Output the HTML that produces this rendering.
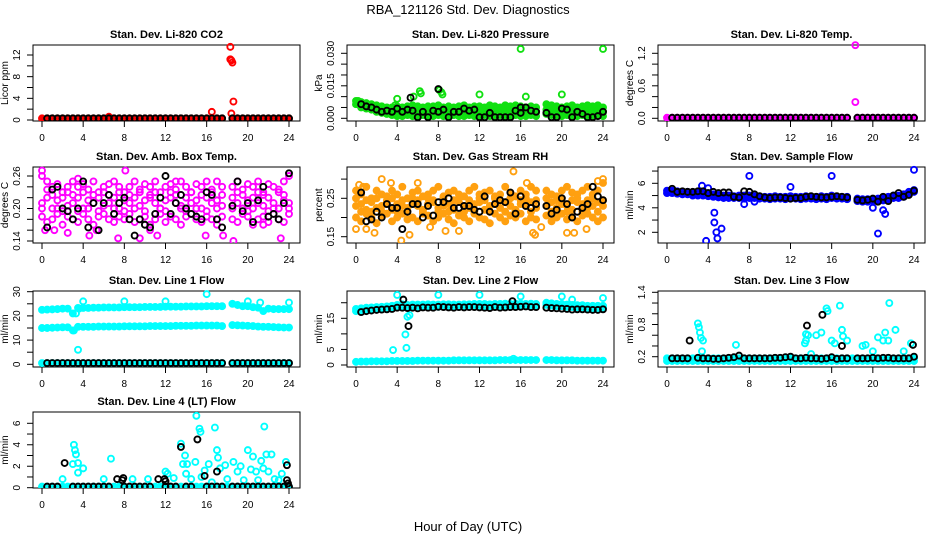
<!DOCTYPE html>
<html><head><meta charset="utf-8"><style>
html,body{margin:0;padding:0;background:#fff;}
svg{display:block;font-family:"Liberation Sans",Arial,sans-serif;}
.pt{font-weight:bold;font-size:11px;}
.tk{font-size:10px;}
</style></head><body>
<svg id="chart" width="936" height="540" viewBox="0 0 936 540">
<text x="468" y="14" text-anchor="middle" font-size="13">RBA_121126  Std. Dev. Diagnostics</text>
<text x="468" y="531" text-anchor="middle" font-size="13">Hour of Day (UTC)</text>
</svg>
<script>
const hours=[0,0.5,1,1.5,2,2.5,3,3.5,4,4.5,5,5.5,6,6.5,7,7.5,8,8.5,9,9.5,10,10.5,11,11.5,12,12.5,13,13.5,14,14.5,15,15.5,16,16.5,17,17.5,18,18.5,19,19.5,20,20.5,21,21.5,22,22.5,23,23.5,24];
const xTicks=[0,4,8,12,16,20,24];
// Panel 1 CO2
const co2Red=[0.3,0.3,0.3,0.3,0.3,0.3,0.3,0.3,0.3,0.3,0.3,0.3,0.3,0.3,0.3,0.3,0.3,0.3,0.3,0.3,0.3,0.3,0.3,0.3,0.3,0.3,0.3,0.3,0.3,0.3,0.3,0.3,0.3,0.3,0.3,0.3,null,0.3,0.3,0.3,0.3,0.3,0.3,0.3,0.3,0.3,0.3,0.3,0.3];
const co2Black=[null,0.3,0.3,0.3,0.3,0.3,0.3,0.3,0.3,0.3,0.3,0.3,0.3,0.3,0.3,0.3,0.3,0.3,0.3,0.3,0.3,0.3,0.3,0.3,0.3,0.3,0.3,0.3,0.3,0.3,0.3,0.3,0.3,0.3,0.3,0.3,null,0.3,0.3,0.3,0.3,0.3,0.3,0.3,0.3,0.3,0.3,0.3,0.3];
const co2OutX=[16.5,18.3,18.3,18.4,18.5,18.6,18.4,6.5];
const co2OutY=[1.5,13.5,11.2,11.0,10.6,3.4,1.2,0.6];
// Panel 2 pressure
const presG1=[0.008,0.0075,0.007,0.0065,0.006,0.0055,0.005,0.005,0.0055,0.005,0.0055,0.006,0.0055,0.005,0.0055,0.0055,0.006,0.005,0.0055,0.005,0.0055,0.006,0.005,0.0055,0.0055,0.005,0.006,0.0055,0.005,0.006,0.0055,0.006,0.0055,0.005,0.0055,0.005,null,0.0065,0.006,0.0055,0.005,0.0055,0.006,0.005,0.0055,0.006,0.0055,0.006,0.005];
const presG2=[0.0065,0.006,0.0055,0.005,0.0045,0.004,0.0035,0.003,0.003,0.003,0.0035,0.003,0.0035,0.003,0.003,0.0035,0.003,0.003,0.0035,0.003,0.003,0.0035,0.003,0.003,0.0035,0.003,0.003,0.0035,0.003,0.003,0.0035,0.003,0.0035,0.003,0.003,0.003,null,0.004,0.0035,0.003,0.003,0.0035,0.003,0.003,0.0035,0.003,0.003,0.0035,0.003];
const presG3=[null,0.005,0.0045,0.004,0.003,0.0025,0.002,0.0015,0.001,0.001,0.0015,0.001,0.001,0.0015,0.001,0.001,0.0015,0.001,0.001,0.0015,0.001,0.001,0.0015,0.001,0.001,0.0015,0.001,0.001,0.0015,0.001,0.001,0.0015,0.001,0.001,0.0015,0.001,null,0.002,0.0015,0.001,0.001,0.0015,0.001,0.001,0.0015,0.001,0.001,0.0015,0.001];
const presBlack=[null,0.0065,0.0055,0.005,0.004,0.003,0.0035,0.003,0.0045,0.003,0.004,0.0035,0.0005,0.003,0.0005,0.0035,0.003,0.004,0.0005,0.003,0.003,0.0045,0.0035,0.004,0.0005,0.0005,0.0025,0.0005,0.0005,0.0005,0.0005,0.0035,0.0025,0.005,0.0035,0.003,null,0.0025,0.0005,0.0005,0.0045,0.004,0.0005,0.003,0.002,0.0005,0.0005,0.001,0.003];
const presOutX=[16,24,8.1,8.3,6.2,6.3,5.6,4,12,16.5,20,3.8,8.4,0.2];
const presOutY=[0.032,0.032,0.013,0.012,0.0125,0.0115,0.01,0.009,0.011,0.01,0.011,0.006,0.011,0.008];
const presBOutX=[8,5.3,16];
const presBOutY=[0.0135,0.0095,0.005];
// Panel 3 Li-820 temp
const tempMag=[0.01,0.01,0.01,0.01,0.01,0.01,0.01,0.01,0.01,0.01,0.01,0.01,0.01,0.01,0.01,0.01,0.01,0.01,0.01,0.01,0.01,0.01,0.01,0.01,0.01,0.01,0.01,0.01,0.01,0.01,0.01,0.01,0.01,0.01,0.01,0.01,null,0.01,0.01,0.01,0.01,0.01,0.01,0.01,0.01,0.01,0.01,0.01,0.01];
const tempBlack=[null,0.01,0.01,0.01,0.01,0.01,0.01,0.01,0.01,0.01,0.01,0.01,0.01,0.01,0.01,0.01,0.01,0.01,0.01,0.01,0.01,0.01,0.01,0.01,0.01,0.01,0.01,0.01,0.01,0.01,0.01,0.01,0.01,0.01,0.01,0.01,null,0.01,0.01,0.01,0.01,0.01,0.01,0.01,0.01,0.01,0.01,0.01,0.01];
const tempOutX=[18.3,18.3];
const tempOutY=[1.35,0.3];
// Panel 4 amb box temp
const ambM1=[0.26,0.25,0.24,0.245,0.23,0.24,0.25,0.24,0.245,0.235,0.25,0.23,0.24,0.245,0.25,0.24,0.23,0.24,0.25,0.235,0.245,0.24,0.25,0.23,0.24,0.245,0.235,0.25,0.24,0.23,0.245,0.24,0.25,0.235,0.25,0.24,null,0.24,0.25,0.235,0.245,0.24,0.25,0.23,0.245,0.24,0.235,0.25,0.26];
const ambM2=[0.21,0.22,0.2,0.215,0.22,0.205,0.21,0.22,0.2,0.215,0.21,0.22,0.205,0.21,0.22,0.2,0.215,0.21,0.22,0.205,0.215,0.22,0.21,0.2,0.215,0.22,0.21,0.205,0.22,0.21,0.215,0.2,0.22,0.21,0.215,0.205,null,0.22,0.21,0.2,0.215,0.22,0.21,0.205,0.22,0.21,0.2,0.215,0.21];
const ambM3=[0.185,0.175,0.18,0.19,0.17,0.185,0.18,0.175,0.19,0.18,0.17,0.185,0.19,0.18,0.175,0.185,0.18,0.19,0.175,0.18,0.185,0.17,0.18,0.19,0.175,0.185,0.18,0.17,0.185,0.19,0.18,0.175,0.185,0.18,0.17,0.185,null,0.18,0.175,0.19,0.185,0.17,0.18,0.185,0.175,0.19,0.18,0.175,0.19];
const ambM4=[0.2,0.235,0.225,0.2,0.195,0.23,0.225,0.195,0.23,0.2,0.225,0.195,0.23,0.225,0.2,0.23,0.195,0.225,0.2,0.23,0.195,0.225,0.23,0.2,0.195,0.23,0.225,0.2,0.195,0.23,0.2,0.225,0.195,0.23,0.2,0.225,null,0.2,0.23,0.225,0.195,0.2,0.23,0.225,0.195,0.2,0.23,0.225,0.2];
const ambOutX=[0,0.3,1.2,3.5,4.6,7.4,8.1,9.5,10.5,11.2,15.9,17.6,18.6,21.5,23.2,2.5,13,5.3];
const ambOutY=[0.27,0.16,0.16,0.255,0.15,0.145,0.27,0.145,0.16,0.15,0.15,0.15,0.14,0.17,0.145,0.155,0.25,0.16];
const ambBlack=[null,0.165,0.235,0.24,0.2,0.195,0.18,0.2,0.25,0.165,0.21,0.16,0.21,0.225,0.19,0.21,0.22,0.18,0.15,0.18,0.17,0.165,0.19,0.22,0.26,0.19,0.21,0.225,0.2,0.19,0.185,0.18,0.23,0.225,0.18,0.165,null,0.205,0.25,0.195,0.21,0.175,0.215,0.24,0.185,0.19,0.18,0.21,0.265];
// Panel 5 RH
const rhO1=[0.27,0.26,0.28,0.25,0.27,0.26,0.255,0.27,0.26,0.28,0.25,0.265,0.27,0.255,0.26,0.27,0.28,0.255,0.265,0.27,0.26,0.255,0.27,0.28,0.26,0.265,0.27,0.255,0.26,0.28,0.265,0.255,0.27,0.26,0.28,0.27,null,0.27,0.26,0.255,0.27,0.28,0.265,0.26,0.27,0.28,0.26,0.27,0.29];
const rhO2=[0.23,0.235,0.22,0.24,0.225,0.23,0.24,0.22,0.235,0.23,0.225,0.24,0.23,0.22,0.235,0.24,0.225,0.23,0.235,0.22,0.24,0.23,0.225,0.235,0.24,0.22,0.23,0.235,0.225,0.24,0.23,0.22,0.235,0.23,0.24,0.225,null,0.23,0.24,0.225,0.235,0.23,0.22,0.24,0.235,0.225,0.23,0.24,0.23];
const rhO3=[0.2,0.19,0.21,0.2,0.185,0.205,0.21,0.19,0.2,0.21,0.195,0.2,0.19,0.21,0.205,0.19,0.2,0.21,0.195,0.185,0.205,0.2,0.19,0.21,0.2,0.195,0.185,0.21,0.2,0.19,0.205,0.2,0.21,0.19,0.2,0.195,null,0.205,0.19,0.2,0.21,0.195,0.2,0.19,0.205,0.21,0.2,0.19,0.2];
const rhO4=[0.25,0.215,0.245,0.215,0.25,0.215,0.245,0.25,0.215,0.245,0.215,0.25,0.245,0.215,0.25,0.245,0.215,0.25,0.215,0.245,0.25,0.215,0.245,0.215,0.25,0.245,0.215,0.25,0.245,0.215,0.25,0.215,0.245,0.25,0.215,0.245,null,0.25,0.215,0.245,0.25,0.215,0.245,0.25,0.215,0.245,0.25,0.215,0.245];
const rhOutX=[0,0.3,0.7,1,1.8,2.5,3.4,4.4,5.2,6,7.2,8.7,10,15.3,17.2,17.4,20.5,22.4,23.5,24,16.6,18,21.2];
const rhOutY=[0.17,0.285,0.28,0.17,0.16,0.3,0.29,0.14,0.155,0.29,0.175,0.165,0.165,0.32,0.16,0.155,0.16,0.17,0.295,0.3,0.29,0.175,0.16];
const rhBlack=[null,0.265,0.19,0.195,0.215,0.2,0.235,0.225,0.225,0.17,0.215,0.235,0.235,0.2,0.23,0.205,0.24,0.24,0.25,0.225,0.225,0.23,0.23,0.22,0.215,0.255,0.215,0.235,0.245,0.24,0.265,0.21,0.255,0.23,0.225,0.235,null,0.23,0.21,0.22,0.25,0.235,0.2,0.215,0.225,0.235,0.28,0.255,0.245];
// Panel 6 sample flow
const sflA=[5.4,5.4,5.35,5.3,5.3,5.25,5.25,5.2,5.2,5.1,5.05,5.0,5.0,4.95,5.0,5.0,5.0,4.95,4.9,4.9,4.9,4.95,4.9,4.9,4.95,4.9,4.9,4.95,4.9,4.9,4.95,4.9,5.0,4.9,4.9,4.9,null,4.75,4.7,4.7,4.7,4.75,4.8,4.9,5.0,5.0,5.1,5.3,5.45];
const sflB=[5.2,5.2,5.15,5.1,5.1,5.0,5.0,5.0,4.95,4.9,4.85,4.8,4.8,4.8,4.8,4.75,4.8,4.8,4.75,4.75,4.7,4.75,4.75,4.7,4.75,4.75,4.7,4.75,4.75,4.7,4.75,4.7,4.8,4.75,4.75,4.7,null,4.55,4.5,4.5,4.55,4.55,4.6,4.7,4.8,4.8,4.9,5.1,5.3];
const sflBlack=[null,5.55,5.3,5.35,5.3,5.3,5.35,5.35,5.2,5.3,5.2,5.25,5.25,4.9,4.85,5.35,5.3,5.1,4.95,4.85,4.8,4.85,4.85,4.8,4.75,4.8,4.8,4.9,4.95,4.9,4.85,4.85,4.9,4.95,4.9,4.85,null,4.65,4.6,4.65,4.75,4.5,4.9,4.55,5.0,5.2,4.9,5.05,5.4];
const sflOutX=[3.8,4.6,4.6,4.8,4.9,5.3,3.4,4,7.5,8,8.5,12,16,20,20.5,21,21.2,24];
const sflOutY=[1.3,2.8,3.6,2,1.5,2.3,5.8,5.6,4.3,6.6,4.5,5.7,6.6,4,1.9,3.8,3.5,7.1];
// Panel 7 line 1
const l1Top=[22.5,22.6,22.7,22.8,23,23,21,23.3,23.3,23.3,23.4,23.4,23.5,23.5,23.5,23.5,23.6,23.6,23.6,23.6,23.7,23.7,23.7,23.7,23.8,23.8,23.8,23.8,23.9,23.9,23.9,23.9,24,24,24,24,null,25,24.5,24,24,23.6,23.4,22,23,22.8,22.8,22.8,22.8];
const l1Mid=[15,15,15.1,15.2,15.3,15.3,14,15.5,15.5,15.5,15.5,15.6,15.6,15.6,15.6,15.6,15.7,15.7,15.7,15.7,15.7,15.8,15.8,15.8,15.8,15.8,15.9,15.9,15.9,15.9,16,16,16,16,16,15.8,null,16.2,16.1,16,15.9,15.8,15.6,15.5,15.5,15.4,15.3,15.2,15.2];
const l1Low=[0.5,0.5,0.5,0.5,0.5,0.5,0.5,0.5,0.5,0.5,0.5,0.5,0.5,0.5,0.5,0.5,0.5,0.5,0.5,0.5,0.5,0.5,0.5,0.5,0.5,0.5,0.5,0.5,0.5,0.5,0.5,0.5,0.5,0.5,0.5,0.5,null,0.5,0.5,0.5,0.5,0.5,0.5,0.5,0.5,0.5,0.5,0.5,0.5];
const l1Black=[null,0.5,0.5,0.5,0.5,0.5,0.5,0.5,0.5,0.5,0.5,0.5,0.5,0.5,0.5,0.5,0.5,0.5,0.5,0.5,0.5,0.5,0.5,0.5,0.5,0.5,0.5,0.5,0.5,0.5,0.5,0.5,0.5,0.5,0.5,0.5,null,0.5,0.5,0.5,0.5,0.5,0.5,0.5,0.5,0.5,0.5,0.5,0.5];
const l1OutX=[3.5,3.3,3.1,16,4,8,12,20,21.2,24,3.6];
const l1OutY=[6,21,14,29,26,26,26,26,25.5,25.5,23];
// Panel 8 line 2
const l2Top=[18,18.2,18.4,18.5,18.6,18.7,18.8,19,19.3,19.5,19.3,19.4,19.4,19.4,19.5,19.4,19.4,19.5,19.5,19.4,19.4,19.5,19.5,19.6,19.6,19.6,19.5,19.6,19.6,19.7,19.6,19.7,19.7,19.6,19.7,19.6,null,20,19.8,19.6,19.6,19.4,19.3,19.2,19.2,19,19,19,19];
const l2Top2=[17.3,17.5,17.7,17.8,17.9,18,18.1,18.3,18.6,18.8,18.6,18.7,18.7,18.7,18.8,18.7,18.7,18.8,18.8,18.7,18.7,18.8,18.8,18.9,18.9,18.9,18.8,18.9,18.9,19,18.9,19,19,18.9,19,18.9,null,19.3,19.1,18.9,18.9,18.7,18.6,18.5,18.5,18.3,18.3,18.3,18.3];
const l2Low=[1,1.1,1.1,1.2,1.2,1.2,1.2,1.3,1.3,1.3,1.3,1.3,1.4,1.4,1.4,1.4,1.4,1.4,1.4,1.5,1.5,1.5,1.5,1.5,1.5,1.5,1.5,1.5,1.6,1.6,1.6,1.6,1.6,1.6,1.6,1.6,null,1.6,1.6,1.5,1.5,1.5,1.5,1.4,1.4,1.4,1.4,1.4,1.4];
const l2Black=[null,17,17.3,17.5,17.7,17.8,17.9,18,18.4,18.4,18.3,18.4,18.2,18.5,18.4,18.4,18.7,18.6,18.5,18.4,18.6,18.5,18.6,18.6,18.5,18.4,18.3,18.6,18.4,18.5,18.6,18.6,18.7,18.8,18.6,18.6,null,18.4,18.3,18.2,18.1,18,17.8,17.9,17.9,17.8,17.7,17.7,17.9];
const l2OutX=[4,3.6,4.8,4.9,5,5.2,16,12,8,20,21,24,15.3];
const l2OutY=[22.5,4.8,9.8,5.5,15.5,16,22,22.5,22.5,22,21,21.5,2];
const l2BOutX=[4.6,5.1,15.2];
const l2BOutY=[21,12.5,20.5];
// Panel 9 line 3
const l3A=[0.17,0.17,0.17,0.17,0.17,0.17,0.17,0.17,0.17,0.17,0.17,0.17,0.17,0.17,0.17,0.17,0.17,0.17,0.17,0.17,0.17,0.17,0.17,0.17,0.18,0.17,0.17,0.17,0.17,0.17,0.17,0.17,0.17,0.17,0.17,0.17,0.17,0.17,0.17,0.17,0.17,0.17,0.17,0.17,0.17,0.17,0.17,0.17,0.17];
const l3B=[0.12,0.12,0.12,0.12,0.12,0.12,0.12,0.12,0.12,0.12,0.12,0.12,0.12,0.12,0.12,0.12,0.12,0.12,0.12,0.12,0.12,0.12,0.12,0.12,0.12,0.12,0.12,0.12,0.12,0.12,0.12,0.12,0.12,0.12,0.12,0.12,0.12,0.12,0.12,0.12,0.12,0.12,0.12,0.12,0.12,0.12,0.12,0.12,0.12];
const l3Black=[null,0.17,0.17,0.17,0.17,null,0.18,0.17,0.17,0.16,0.16,0.17,0.18,0.19,0.22,0.17,0.17,0.17,0.17,0.17,0.17,0.18,0.18,0.19,0.2,0.17,0.17,0.18,0.17,0.17,0.16,0.17,0.19,0.16,0.17,0.17,null,0.17,0.17,0.17,0.18,0.17,0.18,0.18,0.17,0.17,0.17,0.17,0.2];
const l3OutX=[3,3.1,3.2,3.3,3.5,3.4,6.7,13.5,13.7,13.5,14.5,15,15.5,15.6,16.8,17,17.1,17.5,16,16.3,19,19.3,20,20.5,21,21.2,21.5,21.6,22.2,23,23.7,14,13.4];
const l3OutY=[0.82,0.75,0.65,0.55,0.5,0.3,0.42,0.62,0.6,0.5,0.6,0.65,1.1,1.05,1.15,0.7,0.58,0.5,0.5,0.45,0.4,0.42,0.3,0.56,0.5,0.65,0.5,1.2,0.7,0.3,0.45,0.25,0.45];
const l3BOutX=[2.2,13.6,15.1,17,23.9];
const l3BOutY=[0.5,0.78,0.98,0.4,0.42];
// Panel 10 line 4
const l4Cyan=[0.1,0.1,0.1,0.1,0.1,0.1,0.1,0.1,0.1,0.1,0.1,0.1,0.1,0.1,0.1,0.1,0.1,0.1,0.1,0.1,0.1,0.1,0.1,0.1,0.1,0.1,0.1,0.1,0.1,0.1,0.1,0.1,0.1,0.1,0.1,0.1,0.1,0.1,0.1,0.1,0.1,0.1,0.1,0.1,0.1,0.1,0.1,0.1,0.1];
const l4Black=[null,0.1,0.1,0.1,null,null,0.1,0.1,0.1,0.1,0.1,0.1,0.1,0.1,null,null,0.1,0.1,0.1,0.1,0.1,0.1,null,null,0.1,0.1,0.1,null,0.1,0.1,null,null,0.1,0.1,0.1,0.1,null,0.1,0.1,0.1,0.1,0.1,0.1,0.1,0.1,0.1,0.1,0.1,0.1];
const l4OutX=[2,3,3.1,3.2,3.3,3.5,3.5,4,6,6.7,8.8,10.3,12,12.2,12.8,13.5,13.7,13.9,14.1,14.5,14.9,15,15.3,15.4,15.8,16.2,16.8,17,17.1,17.3,17.8,18,18.6,19,19.3,19.6,20,20.3,20.5,20.8,21,21.3,21.5,21.6,21.8,22,22.3,22.6,23,23.3,23.7,14,15.5,16.5];
const l4OutY=[0.8,2.2,4,3.5,3.1,1.4,2.3,1.8,0.8,2.7,0.8,0.8,1.5,1.3,0.9,4.1,2.2,3,2.2,0.8,2.4,6.7,5.5,5.2,1.6,2.2,5.6,3.5,2.8,1.8,2.1,0.8,2.4,1.5,2,0.7,3.5,1.7,2.9,1.5,0.7,2.5,1.8,5.7,3.1,1.5,3.1,0.8,0.7,1.3,2.4,1.3,1,0.5];
const l4BOutX=[2.2,7.3,7.9,7.8,11.3,11.9,12,13.5,15.1,15.8,17,23.8,23.8,23.9];
const l4BOutY=[2.3,0.8,0.9,0.7,0.8,0.8,0.6,3.8,4.5,1.1,1.5,2.1,0.7,0.4];

const NS="http://www.w3.org/2000/svg";
const svg=document.getElementById('chart');
function el(tag,attrs,parent){const e=document.createElementNS(NS,tag);for(const k in attrs)e.setAttribute(k,attrs[k]);(parent||svg).appendChild(e);return e;}
const colL=[33,347,658], rowT=[45,167,291,412], W=267, H=76;

function panel(o){
  const L=colL[o.c], T=rowT[o.r], B=T+H, R=L+W;
  const g=el('g',{});
  
  
  const sx=v=>L+9+(v/24)*247;
  const k=(o.p2-o.p1)/(o.v2-o.v1);
  const sy=v=>o.p1+(v-o.v1)*k;
  const t=el('text',{x:(L+R)/2,y:T-7,'text-anchor':'middle',class:'pt'},g);
  t.textContent=o.title;
  
  
  const xa=el('g',{},g);
  
  
  el('line',{x1:sx(0),x2:sx(24),y1:B,y2:B,stroke:'#000'},xa);
  xTicks.forEach(v=>{
    el('line',{x1:sx(v),x2:sx(v),y1:B,y2:B+6,stroke:'#000'},xa);
    const tx=el('text',{x:sx(v),y:B+20,'text-anchor':'middle',class:'tk'},xa);tx.textContent=v;
  });
  const ya=el('g',{},g);
  
  
  o.ticks.forEach(v=>{
    el('line',{x1:L-6,x2:L,y1:sy(v),y2:sy(v),stroke:'#000'},ya);
  });
  el('line',{x1:L,x2:L,y1:sy(o.ticks[0]),y2:sy(o.ticks[o.ticks.length-1]),stroke:'#000'},ya);
  o.labels.forEach(v=>{
    const x=L-13,y=sy(v);
    const tx=el('text',{x:x,y:y,transform:`rotate(-90 ${x} ${y})`,'text-anchor':'middle',class:'tk'},ya);
    tx.textContent=o.fmt?o.fmt(v):v;
  });
  const yt=el('text',{x:L-25,y:(T+B)/2,transform:`rotate(-90 ${L-25} ${(T+B)/2})`,'text-anchor':'middle',class:'tk'},g);
  yt.textContent=o.ylab;
  
  
  const box=el('rect',{x:L,y:T,width:W,height:H,fill:'none',stroke:'#000'},g);
  
  
  const clipId='c'+o.name;
  const cp=el('clipPath',{id:clipId},g);el('rect',{x:L,y:T-4,width:W,height:H+4},cp);
  const pts=el('g',{'clip-path':`url(#${clipId})`},g);
  o.series.forEach(s=>{
    const sg=el('g',{},pts);
    
    
    const xs=s.x||hours;
    s.y.forEach((v,i)=>{
      if(v===null||v===undefined)return;
      el('circle',{cx:sx(xs[i]),cy:sy(v),r:3,fill:s.fill?s.col:'none',stroke:s.col,'stroke-width':1.9},sg);
    });
  });
}
const f3=v=>v.toFixed(3), f2=v=>v.toFixed(2), f1=v=>v.toFixed(1);
const RED='#ff0000',GRN='#10e010',MAG='#ff00ff',ORG='#ffa010',BLU='#0000ff',CYN='#00ffff',BLK='#000';

panel({name:'co2',c:0,r:0,title:'Stan. Dev. Li-820 CO2',ylab:'Licor ppm',v1:0,p1:120,v2:12,p2:55,ticks:[0,2,4,6,8,10,12],labels:[0,4,8,12],
 series:[{n:'red-points',y:co2Red,col:RED,fill:1},{n:'red-outliers',x:co2OutX,y:co2OutY,col:RED},{n:'black-points',y:co2Black,col:BLK}]});
panel({name:'pressure',c:1,r:0,title:'Stan. Dev. Li-820 Pressure',ylab:'kPa',v1:0,p1:118.3,v2:0.03,p2:53.3,ticks:[0,0.005,0.01,0.015,0.02,0.025,0.03],labels:[0,0.015,0.03],fmt:f3,
 series:[{n:'green-top',y:presG1,col:GRN,fill:1},{n:'green-mid',y:presG2,col:GRN,fill:1},{n:'green-low',y:presG3,col:GRN,fill:1},{n:'green-outliers',x:presOutX,y:presOutY,col:GRN},{n:'black-points',y:presBlack,col:BLK},{n:'black-outliers',x:presBOutX,y:presBOutY,col:BLK}]});
panel({name:'li820-temp',c:2,r:0,title:'Stan. Dev. Li-820 Temp.',ylab:'degrees C',v1:0,p1:118.3,v2:1.2,p2:53.3,ticks:[0,0.2,0.4,0.6,0.8,1.0,1.2],labels:[0,0.6,1.2],fmt:f1,
 series:[{n:'magenta-points',y:tempMag,col:MAG,fill:1},{n:'magenta-outliers',x:tempOutX,y:tempOutY,col:MAG},{n:'black-points',y:tempBlack,col:BLK}]});
panel({name:'amb-box-temp',c:0,r:1,title:'Stan. Dev. Amb. Box Temp.',ylab:'degrees C',v1:0.14,p1:241,v2:0.26,p2:176,ticks:[0.14,0.16,0.18,0.2,0.22,0.24,0.26],labels:[0.14,0.2,0.26],fmt:f2,
 series:[{n:'magenta-a',y:ambM1,col:MAG},{n:'magenta-b',y:ambM2,col:MAG},{n:'magenta-c',y:ambM3,col:MAG},{n:'magenta-d',y:ambM4,col:MAG},{n:'magenta-outliers',x:ambOutX,y:ambOutY,col:MAG},{n:'black-points',y:ambBlack,col:BLK}]});
panel({name:'gas-rh',c:1,r:1,title:'Stan. Dev. Gas Stream RH',ylab:'percent',v1:0.15,p1:236.7,v2:0.25,p2:198.3,ticks:[0.15,0.2,0.25,0.3],labels:[0.15,0.25],fmt:f2,
 series:[{n:'orange-a',y:rhO1,col:ORG,fill:1},{n:'orange-b',y:rhO2,col:ORG,fill:1},{n:'orange-c',y:rhO3,col:ORG,fill:1},{n:'orange-d',y:rhO4,col:ORG,fill:1},{n:'orange-outliers',x:rhOutX,y:rhOutY,col:ORG},{n:'black-points',y:rhBlack,col:BLK}]});
panel({name:'sample-flow',c:2,r:1,title:'Stan. Dev. Sample Flow',ylab:'ml/min',v1:2,p1:232.3,v2:6,p2:183.3,ticks:[2,3,4,5,6,7],labels:[2,4,6],
 series:[{n:'blue-a',y:sflA,col:BLU,fill:1},{n:'blue-b',y:sflB,col:BLU,fill:1},{n:'blue-outliers',x:sflOutX,y:sflOutY,col:BLU},{n:'black-points',y:sflBlack,col:BLK}]});
panel({name:'line1-flow',c:0,r:2,title:'Stan. Dev. Line 1 Flow',ylab:'ml/min',v1:0,p1:364.3,v2:30,p2:291.7,ticks:[0,5,10,15,20,25,30],labels:[0,10,20,30],
 series:[{n:'cyan-top',y:l1Top,col:CYN,fill:1},{n:'cyan-mid',y:l1Mid,col:CYN,fill:1},{n:'cyan-low',y:l1Low,col:CYN,fill:1},{n:'cyan-outliers',x:l1OutX,y:l1OutY,col:CYN},{n:'black-points',y:l1Black,col:BLK}]});
panel({name:'line2-flow',c:1,r:2,title:'Stan. Dev. Line 2 Flow',ylab:'ml/min',v1:0,p1:365,v2:15,p2:318.3,ticks:[0,5,10,15,20],labels:[0,5,15],
 series:[{n:'cyan-top',y:l2Top,col:CYN,fill:1},{n:'cyan-top2',y:l2Top2,col:CYN,fill:1},{n:'cyan-low',y:l2Low,col:CYN,fill:1},{n:'cyan-outliers',x:l2OutX,y:l2OutY,col:CYN},{n:'black-points',y:l2Black,col:BLK},{n:'black-outliers',x:l2BOutX,y:l2BOutY,col:BLK}]});
panel({name:'line3-flow',c:2,r:2,title:'Stan. Dev. Line 3 Flow',ylab:'ml/min',v1:0.2,p1:356.7,v2:1.4,p2:292.3,ticks:[0.2,0.4,0.6,0.8,1.0,1.2,1.4],labels:[0.2,0.8,1.4],fmt:f1,
 series:[{n:'cyan-a',y:l3A,col:CYN,fill:1},{n:'cyan-b',y:l3B,col:CYN,fill:1},{n:'cyan-outliers',x:l3OutX,y:l3OutY,col:CYN},{n:'black-points',y:l3Black,col:BLK},{n:'black-outliers',x:l3BOutX,y:l3BOutY,col:BLK}]});
panel({name:'line4-flow',c:0,r:3,title:'Stan. Dev. Line 4 (LT) Flow',ylab:'ml/min',v1:0,p1:487.7,v2:6,p2:423.3,ticks:[0,1,2,3,4,5,6],labels:[0,2,4,6],
 series:[{n:'cyan-base',y:l4Cyan,col:CYN,fill:1},{n:'cyan-outliers',x:l4OutX,y:l4OutY,col:CYN},{n:'black-points',y:l4Black,col:BLK},{n:'black-outliers',x:l4BOutX,y:l4BOutY,col:BLK}]});
</script>
</body></html>
